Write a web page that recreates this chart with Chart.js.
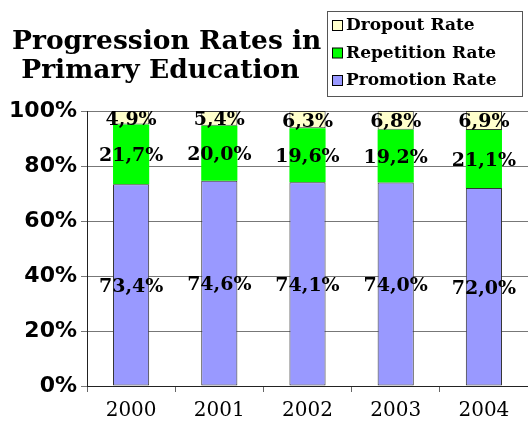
<!DOCTYPE html>
<html>
<head>
<meta charset="utf-8">
<script src="https://cdn.jsdelivr.net/npm/chart.js@4/dist/chart.umd.min.js"></script>
<style>
  html, body { margin: 0; padding: 0; background: #fff; }
  #wrap { width: 528px; height: 430px; position: relative; }
</style>
</head>
<body>
<div id="wrap"><canvas id="chart"></canvas></div>
<script>
const years = ["2000", "2001", "2002", "2003", "2004"];
const promotion = [73.4, 74.6, 74.1, 74.0, 72.0];
const repetition = [21.7, 20.0, 19.6, 19.2, 21.1];
const dropout = [4.9, 5.4, 6.3, 6.8, 6.9];
const yTicks = [0, 20, 40, 60, 80, 100];

const titleLines = ["Progression Rates in", " Primary Education"];
const serif = "'DejaVu Serif', serif";

// percentage in the comma style used on the labels
function pct(v) {
    return v.toFixed(1).replace(".", ",") + "%";
}

// title, boxed legend and value labels
const decor = {
    id: "decor",
    afterDatasetsDraw(chart) {
        const ctx = chart.ctx;
        ctx.save();
        ctx.fillStyle = "#000";
        ctx.textAlign = "center";
        ctx.textBaseline = "middle";
        ctx.font = "bold 19px " + serif;
        chart.data.datasets.forEach((ds, i) => {
            chart.getDatasetMeta(i).data.forEach((bar, j) => {
                let mid = (bar.y + bar.base) / 2;
                ctx.fillText(pct(ds.data[j]), bar.x, mid + 2);
            });
        });
        ctx.restore();
    },
    afterDraw(chart) {
        const ctx = chart.ctx;
        ctx.save();
        // title
        ctx.fillStyle = "#000";
        ctx.textAlign = "left";
        ctx.textBaseline = "middle";
        ctx.font = "bold 26.5px " + serif;
        ctx.fillText(titleLines[0], 12, 42);
        ctx.fillText(titleLines[1], 12, 71);

        // legend box
        ctx.fillStyle = "#fff";
        ctx.fillRect(327.5, 11.5, 195, 85);
        ctx.strokeStyle = "#555";
        ctx.lineWidth = 1;
        ctx.strokeRect(327.5, 11.5, 195, 85);
        const items = chart.data.datasets.slice().reverse();
        ctx.font = "bold 17px " + serif;
        items.forEach((ds, i) => {
            let y = 26 + i * 27.5;
            ctx.fillStyle = ds.backgroundColor;
            ctx.fillRect(332.5, y - 5.5, 10, 10);
            ctx.strokeStyle = "#000";
            ctx.strokeRect(332.5, y - 5.5, 10, 10);
            ctx.fillStyle = "#000";
            ctx.fillText(ds.label, 346, y);
        });
        ctx.restore();
    }
};

const common = { borderSkipped: false, categoryPercentage: 0.41, barPercentage: 1 };

new Chart(document.getElementById("chart"), {
    type: "bar",
    data: {
        labels: years,
        datasets: [
            { label: "Promotion Rate", data: promotion, backgroundColor: "#9999FF", borderColor: "#333", borderWidth: 1 },
            { label: "Repetition Rate", data: repetition, backgroundColor: "#00FF00", borderWidth: 0 },
            { label: "Dropout Rate", data: dropout, backgroundColor: "#FFFFCC", borderColor: "#333", borderWidth: 1 }
        ].map(d => Object.assign(d, common))
    },
    options: {
        responsive: true,
        maintainAspectRatio: false,
        animation: false,
        layout: { padding: { top: 111, right: 0, left: 0, bottom: 0 } },
        plugins: {
            legend: { display: false },
            title: { display: false },
            tooltip: { enabled: false }
        },
        scales: {
            x: {
                stacked: true,
                afterFit(scale) { scale.height = 44; },
                grid: {
                    offset: true,
                    drawOnChartArea: false,
                    tickLength: 6,
                    color: "#666"
                },
                border: { color: "#222" },
                ticks: {
                    color: "#000",
                    padding: 7,
                    font: { family: serif, size: 20 }
                }
            },
            y: {
                stacked: true,
                min: 0,
                max: 100,
                afterFit(scale) { scale.width = 87; },
                afterBuildTicks(scale) {
                    scale.ticks = yTicks.map(v => ({ value: v }));
                },
                grid: { color: "#777", tickLength: 6 },
                border: { color: "#222" },
                ticks: {
                    color: "#000",
                    padding: 4,
                    font: { family: "'DejaVu Sans', sans-serif", size: 22, weight: "bold" },
                    callback: v => v + "%"
                }
            }
        }
    },
    plugins: [decor]
});
</script>
</body>
</html>
